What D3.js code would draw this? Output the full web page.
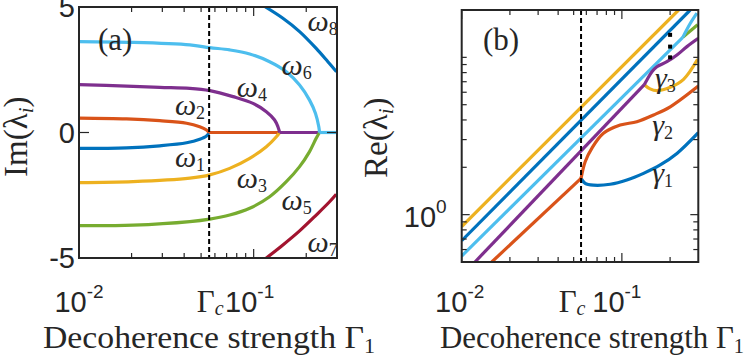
<!DOCTYPE html>
<html>
<head>
<meta charset="utf-8">
<script src="https://cdn.jsdelivr.net/npm/d3@7/dist/d3.min.js"></script>
<style>
body { margin: 0; background: #fff; }
</style>
</head>
<body>
<div id="chart"></div>
<script>
// ---- data ----
const gammaC = 0.0556;

// panel (a): Im(lambda_i) vs Gamma_1, pairs [Gamma, value]
const omega1 = [[0.01,-0.63],[0.0187,-0.61],[0.029,-0.53],[0.0413,-0.41],[0.0491,-0.27],[0.0537,-0.14],[0.0556,0]];
const omega2 = [[0.01,0.57],[0.0187,0.54],[0.029,0.47],[0.0413,0.37],[0.0491,0.23],[0.0537,0.10],[0.0556,0]];
const omega3 = [[0.01,-2.00],[0.0204,-1.96],[0.0431,-1.82],[0.0561,-1.69],[0.0729,-1.43],[0.0949,-1.03],[0.1182,-0.57],[0.1349,-0.17],[0.1408,0]];
const omega4 = [[0.01,1.91],[0.0187,1.85],[0.029,1.80],[0.0431,1.76],[0.0561,1.67],[0.0762,1.43],[0.0991,1.16],[0.1182,0.83],[0.1318,0.50],[0.1377,0.23],[0.1408,0]];
const omega5 = [[0.01,-3.71],[0.0204,-3.69],[0.0431,-3.55],[0.0561,-3.45],[0.0729,-3.29],[0.0949,-3.02],[0.1234,-2.56],[0.1538,-1.96],[0.1832,-1.36],[0.2089,-0.76],[0.228,-0.23],[0.2383,0]];
const omega6 = [[0.01,3.62],[0.0204,3.59],[0.0431,3.49],[0.0561,3.38],[0.0729,3.29],[0.0949,3.13],[0.1234,2.82],[0.1538,2.42],[0.1832,1.89],[0.2089,1.29],[0.226,0.76],[0.236,0.23],[0.2383,0]];
const omega7 = [[0.1156,-5.05],[0.147,-4.48],[0.1832,-3.92],[0.228,-3.29],[0.272,-2.76],[0.297,-2.46]];
const omega8 = [[0.1156,5.02],[0.147,4.55],[0.1832,4.02],[0.228,3.35],[0.266,2.82],[0.298,2.42]];
const zeroRed = [[0.0556,0],[0.1408,0]];
const zeroPurple = [[0.1408,0],[0.2383,0]];
const zeroLightBlue = [[0.2383,0],[0.3,0]];

// panel (b): Re(lambda_i) vs Gamma_1, pairs [Gamma, value]
const reYellowTop = [[0.01,0.84],[0.226,20]];
const reDarkBlue = [[0.01,0.683],[0.267,20]];
const reLightBlue = [[0.01,0.546],[0.24,13.4]];
const reLightBlueUp = [[0.24,13.4],[0.267,16.4],[0.294,19.1]];
const reGreen = [[0.24,13.4],[0.267,14.7],[0.297,16.1]];
const rePurple = [[0.0121,0.5],[0.138,6.7]];
const rePurpleUp = [[0.138,6.7],[0.1433,7.18],[0.154,8.1],[0.1655,8.72],[0.191,9.38],[0.2207,10.35],[0.2548,11.7],[0.3,13.2]];
const reGamma3 = [[0.138,6.7],[0.150,6.3],[0.1655,6.14],[0.2004,6.45],[0.2427,7.25],[0.297,9.72]];
const reRed = [[0.0154,0.5],[0.0556,1.70]];
const reGamma2 = [[0.0556,1.70],[0.059,2.17],[0.0649,2.64],[0.0767,3.29],[0.0976,3.71],[0.124,3.90],[0.1576,4.30],[0.2004,4.85],[0.3,6.57]];
const reGamma1 = [[0.0556,1.70],[0.059,1.58],[0.0664,1.54],[0.0845,1.56],[0.1074,1.66],[0.1365,1.83],[0.1735,2.07],[0.2207,2.45],[0.3,3.32]];
const reDots = [[0.2,13.9],[0.2,11.7],[0.2,10.0]];

// ticks
const xMinor = [0.02,0.03,0.04,0.05,0.06,0.07,0.08,0.09,0.2];
const xMajor = [0.01,0.1];
const imTicks = [-5,0,5];
const reMinor = [0.6,0.7,0.8,0.9,2,3,4,5,6,7,8,9,10];
const reMajor = [1];

// labels [text, subscript, Gamma, value]
const omegaLabels = [["ω","1",0.0354,-1.36],["ω","2",0.0354,0.70],["ω","3",0.080,-2.22],["ω","4",0.080,1.43],
                     ["ω","5",0.1445,-3.09],["ω","6",0.1445,2.30],["ω","7",0.2035,-4.75],["ω","8",0.2035,4.04]];
const gammaLabels = [["γ","1",0.1545,1.59],["γ","2",0.1545,3.21],["γ","3",0.161,6.39]];

const colors = {blue:"#0072BD", red:"#D95319", yellow:"#EDB120", purple:"#7E2F8E",
                green:"#77AC30", lightblue:"#4DBEEE", crimson:"#A2142F"};
const serif = "'Liberation Serif', 'Times New Roman', serif";
const sans = "'Liberation Sans', Arial, sans-serif";

const width = 747, height = 357;
let svg = d3.select("#chart").append("svg")
    .attr("width", width).attr("height", height);

const boxA = {left: 79, right: 337, top: 7, bottom: 258};
const boxB = {left: 461.7, right: 698.3, top: 10, bottom: 262};

let xA = d3.scaleLog().domain([0.01, 0.3]).range([boxA.left, boxA.right]);
let yA = d3.scaleLinear().domain([-5, 5]).range([boxA.bottom, boxA.top]);
let xB = d3.scaleLog().domain([0.01, 0.3]).range([boxB.left, boxB.right]);
let yB = d3.scaleLog().domain([0.5, 20]).range([boxB.bottom, boxB.top]);

function clip(id, box) {
    svg.append("clipPath").attr("id", id).append("rect")
        .attr("x", box.left).attr("y", box.top)
        .attr("width", box.right - box.left).attr("height", box.bottom - box.top);
}
clip("clipA", boxA);
clip("clipB", boxB);

function drawSeries(g, x, y, data, color, smooth) {
    let line = d3.line()
        .x(function(d) {return x(d[0]);})
        .y(function(d) {return y(d[1]);})
        .curve(smooth ? d3.curveCatmullRom.alpha(0.5) : d3.curveLinear);
    g.append("path").datum(data)
        .attr("d", line)
        .attr("fill", "none")
        .attr("stroke", color)
        .attr("stroke-width", 3.2)
        .attr("stroke-linejoin", "round");
}

function xTicks(x, box) {
    let g = svg.append("g").attr("stroke", "#262626").attr("stroke-width", 1.2);
    xMinor.forEach(function(t) {
        g.append("line").attr("x1", x(t)).attr("x2", x(t)).attr("y1", box.bottom).attr("y2", box.bottom - 5);
        g.append("line").attr("x1", x(t)).attr("x2", x(t)).attr("y1", box.top).attr("y2", box.top + 5);
    });
    xMajor.forEach(function(t) {
        g.append("line").attr("x1", x(t)).attr("x2", x(t)).attr("y1", box.bottom).attr("y2", box.bottom - 9);
        g.append("line").attr("x1", x(t)).attr("x2", x(t)).attr("y1", box.top).attr("y2", box.top + 9);
    });
}

function yTicks(y, box, vals, len) {
    let g = svg.append("g").attr("stroke", "#262626").attr("stroke-width", 1.2);
    vals.forEach(function(t) {
        g.append("line").attr("x1", box.left).attr("x2", box.left + len).attr("y1", y(t)).attr("y2", y(t));
        g.append("line").attr("x1", box.right).attr("x2", box.right - len).attr("y1", y(t)).attr("y2", y(t));
    });
}

function frame(box) {
    svg.append("rect")
        .attr("x", box.left).attr("y", box.top)
        .attr("width", box.right - box.left).attr("height", box.bottom - box.top)
        .attr("fill", "none").attr("stroke", "#262626").attr("stroke-width", 2);
}

function dashed(x, box) {
    svg.append("line")
        .attr("x1", x(gammaC)).attr("x2", x(gammaC))
        .attr("y1", box.top).attr("y2", box.bottom)
        .attr("stroke", "#000").attr("stroke-width", 2)
        .attr("stroke-dasharray", "5,3");
}

function powLabel(xpos, ypos, exp, anchor) {
    let t = svg.append("text").attr("x", xpos).attr("y", ypos)
        .attr("text-anchor", anchor).attr("font-family", sans).attr("fill", "#262626");
    t.append("tspan").attr("font-size", 29).text("10");
    t.append("tspan").attr("font-size", 19).attr("dy", -14).text(exp);
}

function gammaCLabel(xpos) {
    let t = svg.append("text").attr("x", xpos).attr("y", 312)
        .attr("text-anchor", "middle").attr("font-family", serif).attr("fill", "#262626");
    t.append("tspan").attr("font-size", 31).text("Γ");
    t.append("tspan").attr("font-size", 20).attr("font-style", "italic").attr("dy", 3).text("c");
}

function xTitle(x0, len) {
    let t = svg.append("text").attr("x", x0).attr("y", 348)
        .attr("font-family", serif).attr("fill", "#262626")
        .attr("font-size", 32)
        .attr("textLength", len).attr("lengthAdjust", "spacingAndGlyphs");
    t.append("tspan").text("Decoherence strength Γ");
    t.append("tspan").attr("font-size", 21).attr("dy", 5).text("1");
}

function yTitle(bx, y0, name) {
    let t = svg.append("text")
        .attr("transform", "translate(" + bx + "," + y0 + ") rotate(-90)")
        .attr("font-family", serif).attr("fill", "#262626")
        .attr("font-size", 33);
    t.append("tspan").text(name + "(λ");
    t.append("tspan").attr("font-size", 21).attr("font-style", "italic").attr("dy", 6).text("i");
    t.append("tspan").attr("dy", -6).text(")");
}

function curveLabels(x, y, labels) {
    labels.forEach(function(l) {
        let t = svg.append("text").attr("x", x(l[2])).attr("y", y(l[3]))
            .attr("font-family", serif).attr("fill", "#262626");
        t.append("tspan").attr("font-size", 30).attr("font-style", "italic").text(l[0]);
        t.append("tspan").attr("font-size", 18).attr("dy", 4).text(l[1]);
    });
}

// ---- panel (a) ----
let gA = svg.append("g").attr("clip-path", "url(#clipA)");
drawSeries(gA, xA, yA, omega1, colors.blue, true);
drawSeries(gA, xA, yA, omega2, colors.red, true);
drawSeries(gA, xA, yA, zeroRed, colors.red, false);
drawSeries(gA, xA, yA, omega3, colors.yellow, true);
drawSeries(gA, xA, yA, omega4, colors.purple, true);
drawSeries(gA, xA, yA, zeroPurple, colors.purple, false);
drawSeries(gA, xA, yA, omega5, colors.green, true);
drawSeries(gA, xA, yA, omega6, colors.lightblue, true);
drawSeries(gA, xA, yA, zeroLightBlue, colors.lightblue, false);
drawSeries(gA, xA, yA, omega7, colors.crimson, true);
drawSeries(gA, xA, yA, omega8, colors.blue, true);

dashed(xA, boxA);
xTicks(xA, boxA);
yTicks(yA, boxA, imTicks, 10);
frame(boxA);

imTicks.forEach(function(t) {
    svg.append("text").attr("x", boxA.left - 4).attr("y", yA(t)).attr("dy", "0.36em")
        .attr("text-anchor", "end").attr("font-family", sans).attr("font-size", 29)
        .attr("fill", "#262626").text(t);
});
powLabel(xA(0.01), 312, "-2", "middle");
powLabel(xA(0.1) - 4, 312, "-1", "middle");
gammaCLabel(xA(gammaC) + 1);
xTitle(43, 332);
yTitle(27, 177, "Im");
curveLabels(xA, yA, omegaLabels);
svg.append("text").attr("x", xA(0.01284)).attr("y", yA(3.29))
    .attr("font-family", serif).attr("font-size", 31).attr("fill", "#262626").text("(a)");

// ---- panel (b) ----
let gB = svg.append("g").attr("clip-path", "url(#clipB)");
drawSeries(gB, xB, yB, reYellowTop, colors.yellow, false);
drawSeries(gB, xB, yB, reDarkBlue, colors.blue, false);
drawSeries(gB, xB, yB, reGreen, colors.green, true);
drawSeries(gB, xB, yB, reLightBlue, colors.lightblue, false);
drawSeries(gB, xB, yB, reLightBlueUp, colors.lightblue, true);
drawSeries(gB, xB, yB, reGamma3, colors.yellow, true);
drawSeries(gB, xB, yB, rePurple, colors.purple, false);
drawSeries(gB, xB, yB, rePurpleUp, colors.purple, true);
drawSeries(gB, xB, yB, reGamma1, colors.blue, true);
drawSeries(gB, xB, yB, reRed, colors.red, false);
drawSeries(gB, xB, yB, reGamma2, colors.red, true);

gB.selectAll("rect.dot").data(reDots).enter().append("rect")
    .attr("class", "dot")
    .attr("x", function(d) {return xB(d[0]) - 2;})
    .attr("y", function(d) {return yB(d[1]) - 2;})
    .attr("width", 4).attr("height", 4).attr("fill", "#000");

dashed(xB, boxB);
xTicks(xB, boxB);
yTicks(yB, boxB, reMinor, 5);
yTicks(yB, boxB, reMajor, 8);
frame(boxB);

let t0 = svg.append("text").attr("x", boxB.left - 15).attr("y", yB(1) + 12)
    .attr("text-anchor", "end").attr("font-family", sans).attr("fill", "#262626");
t0.append("tspan").attr("font-size", 29).text("10");
t0.append("tspan").attr("font-size", 19).attr("dy", -14).text("0");

powLabel(xB(0.01) - 2, 312, "-2", "middle");
powLabel(xB(0.1) - 5, 312, "-1", "middle");
gammaCLabel(xB(gammaC) - 9);
xTitle(440, 304);
yTitle(387, 178, "Re");
curveLabels(xB, yB, gammaLabels);
svg.append("text").attr("x", xB(0.01358)).attr("y", yB(11.1))
    .attr("font-family", serif).attr("font-size", 31).attr("fill", "#262626").text("(b)");
</script>
</body>
</html>
